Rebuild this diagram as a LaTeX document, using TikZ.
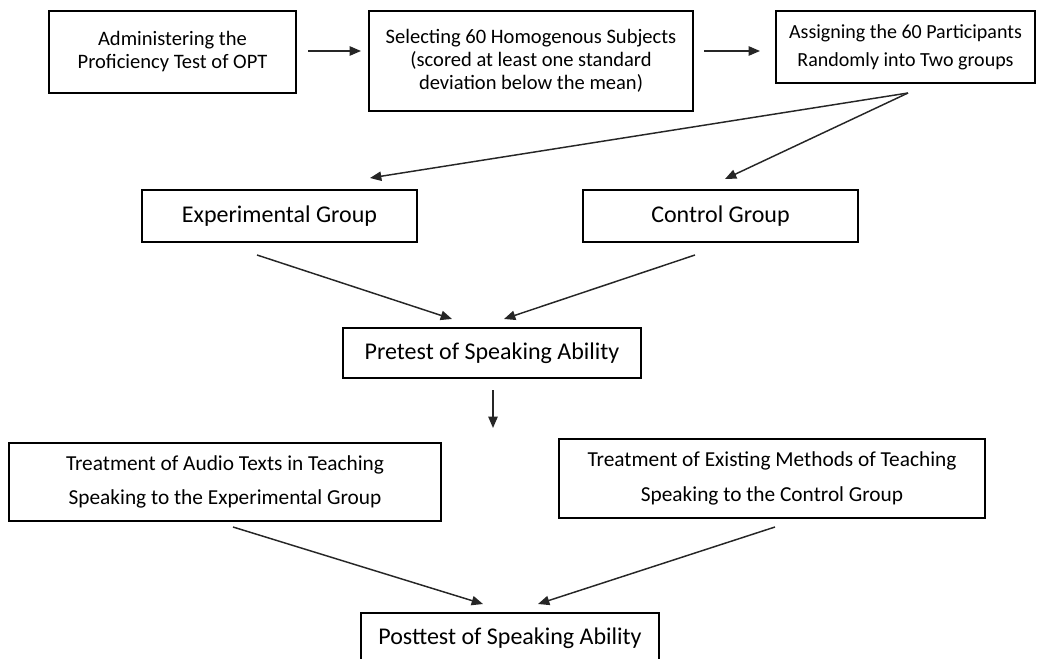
\documentclass[tikz,border=0pt]{standalone}
\usepackage{fontspec}
\setmainfont{Carlito}
\usetikzlibrary{arrows.meta}
\begin{document}
\begin{tikzpicture}[x=0.75pt,y=-0.75pt,
  box/.style={draw=black, line width=1.1pt, inner sep=0pt, align=center, text=black},
  sz/.style 2 args={minimum width={#1*0.75pt}, minimum height={#2*0.75pt}},
  toptext/.style={font=\fontsize{15.4}{17.25}\selectfont},
  toptextb/.style={font=\fontsize{15}{21}\selectfont},
  midtext/.style={font=\fontsize{18}{22}\selectfont},
  trtext/.style={font=\fontsize{16}{26}\selectfont},
  conn/.style={draw=black!85, line width=1.1pt, -{Triangle[length=8.5pt,width=7pt]}}
]
\useasboundingbox (0,0) rectangle (1037,659);
\clip (0,0) rectangle (1037,659);

% boxes
\node[box, toptext, sz={247}{82}] (b1) at (172.5,52) {Administering the\\Proficiency Test of OPT};
\node[box, toptext, sz={324}{100}] (b2) at (531,61) {Selecting 60 Homogenous Subjects\\(scored at least one standard\\deviation below the mean)};
\node[box, toptextb, sz={259}{72}] (b3) at (905.5,47) {Assigning the 60 Participants\\Randomly into Two groups};
\node[box, midtext, sz={275}{52}] (exp) at (279.5,216) {Experimental Group};
\node[box, midtext, sz={275}{52}] (ctl) at (720.5,216) {Control Group};
\node[box, midtext, sz={298}{50}] (pre) at (492,353) {Pretest of Speaking Ability};
\node[box, trtext, sz={432}{78}] (t1) at (225,482) {Treatment of Audio Texts in Teaching\\Speaking to the Experimental Group};
\node[box, trtext, sz={426}{79}] (t2) at (772,478.5) {Treatment of Existing Methods of Teaching\\Speaking to the Control Group};
\node[box, midtext, sz={298}{50}] (post) at (510,638) {Posttest of Speaking Ability};

% connector end points
\coordinate (a1s) at (308,51);  \coordinate (a1e) at (361,51);
\coordinate (a2s) at (704,51);  \coordinate (a2e) at (760,51);
\coordinate (apex) at (908,93);
\coordinate (expin) at (370,178); \coordinate (ctlin) at (725,179);
\coordinate (expout) at (257,255); \coordinate (ctlout) at (695,255);
\coordinate (prein1) at (452,319); \coordinate (prein2) at (504,319);
\coordinate (preout) at (493,390); \coordinate (trin) at (493,428);
\coordinate (t1out) at (233,527); \coordinate (t2out) at (775,527);
\coordinate (postin1) at (483,604); \coordinate (postin2) at (538,604);

\draw[conn] (a1s) -- (a1e);
\draw[conn] (a2s) -- (a2e);
\draw[conn] (apex) -- (expin);
\draw[conn] (apex) -- (ctlin);
\draw[conn] (expout) -- (prein1);
\draw[conn] (ctlout) -- (prein2);
\draw[conn] (preout) -- (trin);
\draw[conn] (t1out) -- (postin1);
\draw[conn] (t2out) -- (postin2);
\end{tikzpicture}
\end{document}
